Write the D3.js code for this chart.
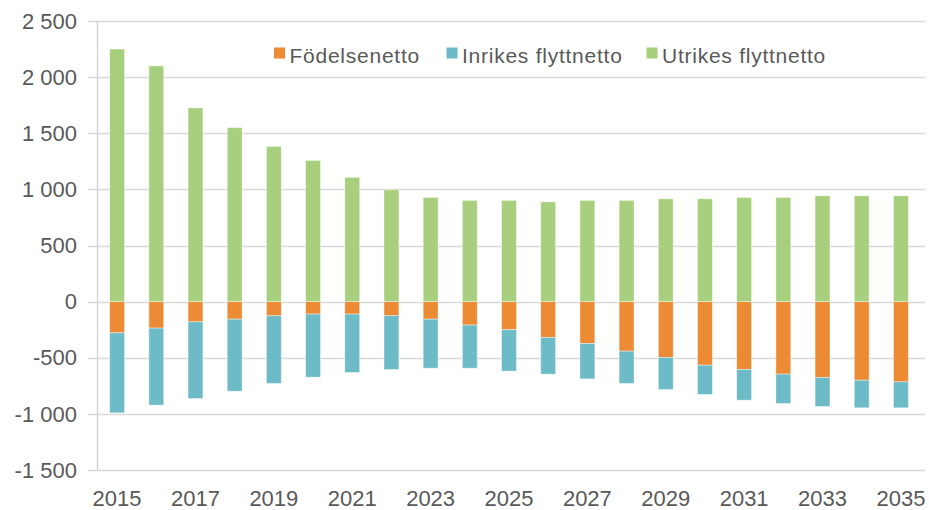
<!DOCTYPE html>
<html>
<head>
<meta charset="utf-8">
<script src="https://cdn.jsdelivr.net/npm/d3@7"></script>
<style>
  body { margin: 0; background: #fff; }
  text { font-family: "Liberation Sans", Arial, sans-serif; fill: #595959; }
</style>
</head>
<body>
<svg width="929" height="510"></svg>
<script>
// data
var years = d3.range(2015, 2036);
var fodelsenetto = [-278, -236, -180, -156, -126, -111, -111, -126, -156, -209, -250,
  -319, -373, -441, -497, -566, -605, -646, -676, -700, -715];
var inrikes = [-713, -686, -683, -642, -603, -562, -520, -479, -437, -384, -369,
  -327, -315, -288, -286, -261, -273, -262, -258, -246, -231];
var utrikes = [2250, 2100, 1725, 1550, 1383, 1258, 1107, 996, 928, 902, 902,
  889, 902, 902, 916, 916, 928, 928, 943, 943, 943];
var seriesNames = ["Födelsenetto", "Inrikes flyttnetto", "Utrikes flyttnetto"];
var yTicks = [-1500, -1000, -500, 0, 500, 1000, 1500, 2000, 2500];
var xLabels = [2015, 2017, 2019, 2021, 2023, 2025, 2027, 2029, 2031, 2033, 2035];

var colors = ["#ED8B35", "#6DBBC6", "#A8CF7D"];

var svg = d3.select("svg");
var mLeft = 97.5, mRight = 920.5, mTop = 21, mBottom = 470;

var x = d3.scaleBand().domain(years).range([mLeft, mRight]).paddingInner(0.62).paddingOuter(0.31);
var y = d3.scaleLinear().domain([-1500, 2500]).range([mBottom, mTop]);

var loc = d3.formatLocale({ decimal: ",", thousands: "\u00a0", grouping: [3], currency: ["", ""], minus: "-" });
var fmt = loc.format(",d");

// grid
svg.append("g").selectAll("line").data(yTicks).enter().append("line")
  .attr("x1", 88).attr("x2", mRight + 5)
  .attr("y1", function (d) { return Math.round(y(d)) + 0.5; })
  .attr("y2", function (d) { return Math.round(y(d)) + 0.5; })
  .attr("stroke", "#d9d9d9").attr("stroke-width", 1.3);

// y labels
svg.append("g").selectAll("text").data(yTicks).enter().append("text")
  .attr("x", 77).attr("y", function (d) { return y(d); })
  .attr("dy", "0.35em")
  .attr("text-anchor", "end")
  .attr("font-size", 22)
  .text(function (d) { return fmt(d); });

// stacks
var rows = years.map(function (yr, i) {
  return { year: yr, f: fodelsenetto[i], n: inrikes[i], u: utrikes[i] };
});
var segs = [];
rows.forEach(function (r) {
  segs.push({ year: r.year, y0: 0, y1: r.f, c: 0 });
  segs.push({ year: r.year, y0: r.f, y1: r.f + r.n, c: 1 });
  segs.push({ year: r.year, y0: 0, y1: r.u, c: 2 });
});

svg.append("g").selectAll("rect").data(segs).enter().append("rect")
  .attr("x", function (d) { return x(d.year); })
  .attr("width", x.bandwidth())
  .attr("y", function (d) { return y(Math.max(d.y0, d.y1)); })
  .attr("height", function (d) { return Math.abs(y(d.y0) - y(d.y1)); })
  .attr("fill", function (d) { return colors[d.c]; })
  .attr("stroke", "#ffffff").attr("stroke-opacity", 0.5).attr("stroke-width", 0.8);

// left axis line
svg.append("line")
  .attr("x1", mLeft).attr("x2", mLeft).attr("y1", mTop).attr("y2", mBottom)
  .attr("stroke", "#d0d0d0").attr("stroke-width", 1.3);

// x labels
svg.append("g").selectAll("text").data(xLabels).enter().append("text")
  .attr("x", function (d) { return x(d) + x.bandwidth() / 2; })
  .attr("y", 506)
  .attr("text-anchor", "middle")
  .attr("font-size", 22)
  .text(function (d) { return d; });

// legend
var legX = [274, 446.5, 646.5];
var lg = svg.append("g").selectAll("g").data(seriesNames).enter().append("g")
  .attr("transform", function (d, i) { return "translate(" + legX[i] + ",47.5)"; });
lg.append("rect").attr("width", 11).attr("height", 11)
  .attr("fill", function (d, i) { return colors[i]; });
lg.append("text").attr("x", 15.5).attr("y", 15).attr("font-size", 21)
  .attr("letter-spacing", 0.75)
  .text(function (d) { return d; });
</script>
</body>
</html>
